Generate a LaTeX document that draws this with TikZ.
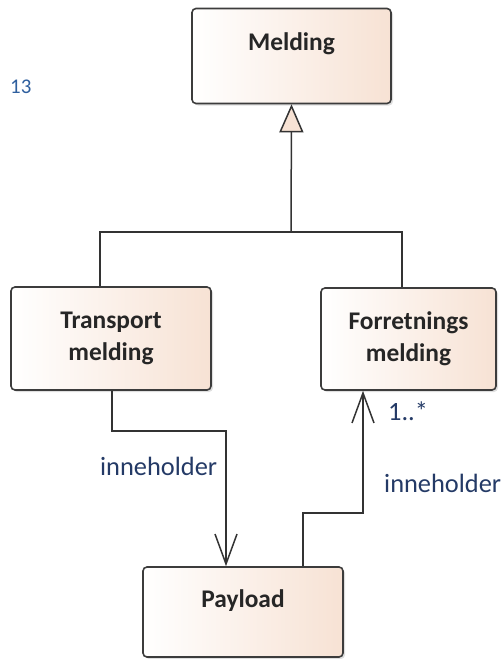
\documentclass[tikz,border=0pt]{standalone}
\usepackage{fontspec}
\setmainfont{Carlito}
\usetikzlibrary{arrows.meta,shadows,calc}
\definecolor{peach}{HTML}{F7E2D4}
\definecolor{boxline}{HTML}{3C3C3C}
\definecolor{labelblue}{HTML}{243A66}
\definecolor{idblue}{HTML}{2F5F9E}
\begin{document}
\begin{tikzpicture}[x=1bp,y=-1bp,
  classbox/.style={draw=boxline, line width=1.6bp, rounded corners=4bp,
    left color=white, right color=peach, align=center,
    font=\fontsize{25.5}{32}\selectfont\bfseries, text=black!85,
    drop shadow={shadow xshift=2bp, shadow yshift=-2bp, opacity=0.25},
    inner sep=0pt},
  classname/.style={font=\fontsize{25.5}{32}\selectfont\bfseries, text=black!85},
  conn/.style={draw=black!80, line width=1.5bp},
  gen/.style={conn, -{Triangle[open, length=28bp, width=24bp, fill=peach, line width=1.5bp]}},
  assoc/.style={conn, -{Straight Barb[length=30bp, width=22bp, line width=1.5bp]}},
  lbl/.style={font=\fontsize{26.5}{30}\selectfont, text=labelblue, inner sep=0pt}]
\useasboundingbox (0,0) rectangle (504,659);

% classes
\node[classbox, minimum width=199bp, minimum height=95bp] (mel) at (291.5,56) {};
\node[classname] (meltxt) at (291.5,44) {Melding};
\node[classbox, minimum width=200bp, minimum height=103bp] (tr) at (111,338.5) {Transport\\melding};
\node[classbox, minimum width=175bp, minimum height=102bp] (fo) at (408.5,339) {Forretnings\\melding};
\node[classbox, minimum width=200bp, minimum height=90bp] (pl) at (243,612) {};
\node[classname] (pltxt) at (243,601) {Payload};

% junction points of the routed connectors
\coordinate (gj) at (291,232);
\coordinate (aj) at (226,431);
\coordinate (bj) at (363,513);

% generalization
\draw[conn] ([xshift=-11bp]tr.north) |- (gj);
\draw[conn] ([xshift=-6.5bp]fo.north) |- (gj);
\draw[gen] (gj) -- (mel.south);

% associations
\draw[assoc] ([xshift=1bp]tr.south) |- (aj) -- (aj |- pl.north);
\draw[assoc] ([xshift=60bp]pl.north) |- (bj) -- (bj |- fo.south);

% labels
\node[lbl, anchor=west] (l1) at (100,466) {inneholder};
\node[lbl, anchor=west] (l2) at (384,483) {inneholder};
\node[lbl, anchor=west] (m1) at (388,411) {1..*};
\node[lbl, anchor=west, text=idblue, font=\fontsize{21}{24}\selectfont] (id) at (10,87) {13};
\end{tikzpicture}
\end{document}
